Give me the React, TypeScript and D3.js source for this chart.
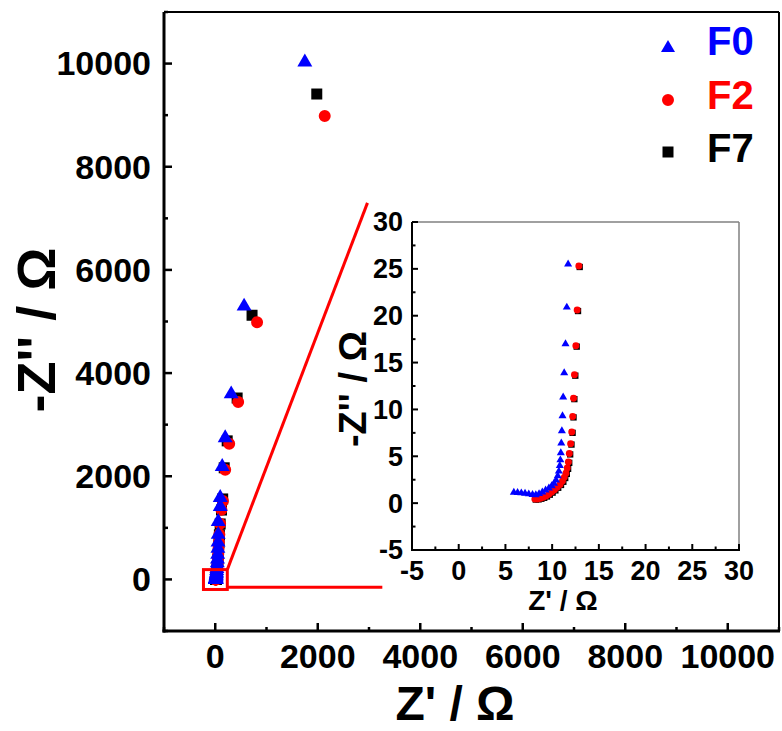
import React from "react";
import * as d3 from "d3";

type Pt = [number, number];

// Z' and -Z'' values in ohm (inset part + main part)
const f0Data: Pt[] = [
  [5.9, 1.15], [6.3, 1.12], [6.7, 1.08], [7.1, 1.03], [7.5, 0.97], [7.9, 0.9], [8.25, 0.88],
  [8.6, 1.0], [8.95, 1.18], [9.3, 1.38], [9.65, 1.6], [9.95, 1.84], [10.2, 2.1], [10.42, 2.45],
  [10.6, 2.9], [10.72, 3.4], [10.82, 4.0], [10.88, 4.6], [10.93, 5.35], [10.98, 6.4], [11.04, 7.7],
  [11.11, 9.3], [11.18, 11.3], [11.29, 13.9], [11.43, 17.0], [11.57, 20.9], [11.71, 25.5],
  [13, 31], [14, 38], [15, 47], [16, 58], [18, 72], [20, 89], [22, 110], [25, 136], [28, 168],
  [32, 208], [36, 257], [40, 318], [44, 393], [48, 486], [52, 601], [55, 720], [58, 870],
  [58, 1121], [97, 1411], [97, 1585], [136, 2184], [194, 2744], [311, 3594], [563, 5295], [1748, 10029],
];

const f2Data: Pt[] = [
  [8.15, 0.43], [8.45, 0.45], [8.75, 0.52], [9.05, 0.62], [9.35, 0.76], [9.65, 0.95], [9.95, 1.18],
  [10.25, 1.42], [10.55, 1.7], [10.85, 2.0], [11.1, 2.35], [11.3, 2.75], [11.48, 3.2], [11.62, 3.75],
  [11.74, 4.4], [11.84, 5.3], [11.98, 6.35], [12.1, 7.6], [12.2, 9.25], [12.29, 11.2], [12.39, 13.7],
  [12.54, 16.8], [12.68, 20.6], [12.86, 25.3],
  [14, 31], [15, 38], [16, 47], [18, 58], [20, 72], [22, 89], [25, 110], [28, 136], [32, 168],
  [36, 208], [41, 257], [46, 318], [52, 393], [58, 486], [64, 601], [72, 720], [80, 870],
  [95, 1080], [120, 1350], [150, 1520], [194, 2126], [272, 2628], [447, 3440], [816, 4985], [2136, 8985],
];

const f7Data: Pt[] = [
  [8.25, 0.38], [8.55, 0.4], [8.85, 0.47], [9.15, 0.57], [9.45, 0.71], [9.75, 0.9], [10.05, 1.12],
  [10.35, 1.36], [10.65, 1.64], [10.95, 1.94], [11.2, 2.28], [11.4, 2.68], [11.57, 3.12], [11.71, 3.66],
  [11.83, 4.3], [11.93, 5.2], [12.07, 6.25], [12.19, 7.5], [12.29, 9.15], [12.38, 11.1], [12.48, 13.6],
  [12.63, 16.7], [12.77, 20.5], [12.95, 25.2],
  [14, 31], [15, 37], [17, 46], [19, 57], [21, 71], [23, 88], [26, 108], [29, 134], [33, 166],
  [37, 206], [42, 254], [47, 315], [53, 390], [59, 482], [65, 598], [73, 716], [81, 866],
  [96, 1075], [122, 1345], [145, 1560], [175, 2164], [233, 2686], [427, 3517], [718, 5121], [1981, 9410],
];

const seriesNames = ["F0", "F2", "F7"];
const seriesColors = ["#0000ff", "#ff0000", "#000000"];

const mainTicks = [0, 2000, 4000, 6000, 8000, 10000];
const mainMinorTicks = [-1000, 1000, 3000, 5000, 7000, 9000, 11000];
const insetTicks = [-5, 0, 5, 10, 15, 20, 25, 30];
const insetMinorTicks = [-2.5, 2.5, 7.5, 12.5, 17.5, 22.5, 27.5];

// zoom box around the origin (main data units)
const boxX = [-230, 235];
const boxY = [-195, 190];

const font = "'Liberation Sans', Arial, sans-serif";

const main = { left: 164, right: 779, top: 12, bottom: 631 };
const inset = { left: 412, right: 739, top: 222, bottom: 550 };

export default function App() {
  const x = d3.scaleLinear().domain([-1000, 11000]).range([main.left, main.right]);
  const y = d3.scaleLinear().domain([-1000, 11000]).range([main.bottom, main.top]);
  const xi = d3.scaleLinear().domain([-5, 30]).range([inset.left, inset.right]);
  const yi = d3.scaleLinear().domain([-5, 30]).range([inset.bottom, inset.top]);

  const datasets = [f0Data, f2Data, f7Data];
  const types = [d3.symbolTriangle, d3.symbolCircle, d3.symbolSquare];
  const mainSizes = [97, 113, 121];
  const insetSizes = [28, 38, 40];
  const legendSizes = [85, 113, 121];

  const sym = (i: number, size: number) => d3.symbol().type(types[i]).size(size)() as string;

  // draw order: F7 below, F0 on top
  const order = [2, 1, 0];

  return (
    <svg width={782} height={731} style={{ position: "absolute", left: 0, top: 0, background: "#fff" }}
      fontFamily={font} fontWeight="bold">
      <rect width={782} height={731} fill="#fff" />

      {/* main frame */}
      <line x1={main.left} x2={main.right} y1={main.top} y2={main.top} stroke="#000" strokeWidth={2} />
      <line x1={main.right} x2={main.right} y1={main.top} y2={main.bottom} stroke="#000" strokeWidth={2} />

      {mainTicks.map((t) => (
        <g key={"mx" + t}>
          <line x1={x(t)} x2={x(t)} y1={main.bottom} y2={main.bottom - 8} stroke="#000" strokeWidth={2.5} />
          <text x={x(t)} y={668} textAnchor="middle" fontSize={34}>{t}</text>
          <line x1={main.left} x2={main.left + 8} y1={y(t)} y2={y(t)} stroke="#000" strokeWidth={2.5} />
          <text x={151} y={y(t)} dy="0.35em" textAnchor="end" fontSize={34}>{t}</text>
        </g>
      ))}
      {mainMinorTicks.map((t) => (
        <g key={"mm" + t}>
          <line x1={x(t)} x2={x(t)} y1={main.bottom} y2={main.bottom - 4} stroke="#000" strokeWidth={2.5} />
          <line x1={main.left} x2={main.left + 4} y1={y(t)} y2={y(t)} stroke="#000" strokeWidth={2.5} />
        </g>
      ))}
      <line x1={main.left} x2={main.left} y1={main.top} y2={main.bottom + 1.5} stroke="#000" strokeWidth={3} />
      <line x1={main.left - 1.5} x2={main.right + 1} y1={main.bottom} y2={main.bottom} stroke="#000" strokeWidth={3} />

      <text x={455} y={720} textAnchor="middle" fontSize={48}>Z' / Ω</text>
      <text transform={`translate(55,330) rotate(-90)`} textAnchor="middle" fontSize={54}>-Z'' / Ω</text>

      {/* main points */}
      {order.map((i) => (
        <g key={"ms" + i} fill={seriesColors[i]}>
          {datasets[i].map((d, k) => (
            <path key={k} d={sym(i, mainSizes[i])} transform={`translate(${x(d[0])},${y(d[1])})`} />
          ))}
        </g>
      ))}

      {/* zoom box and leader lines */}
      <rect x={x(boxX[0])} y={y(boxY[1])} width={x(boxX[1]) - x(boxX[0])} height={y(boxY[0]) - y(boxY[1])}
        fill="none" stroke="#ff0000" strokeWidth={3} />
      <line x1={x(boxX[1])} y1={y(boxY[1])} x2={x(2970)} y2={y(7300)} stroke="#ff0000" strokeWidth={3} />
      <line x1={x(boxX[1])} y1={y(-150)} x2={x(3260)} y2={y(-150)} stroke="#ff0000" strokeWidth={3} />

      {/* legend */}
      {seriesNames.map((n, i) => (
        <g key={n}>
          <path d={sym(i, legendSizes[i])} transform={`translate(668,${[48, 100, 152][i]})`} fill={seriesColors[i]} />
          <text x={707} y={[55, 109, 162][i]} fontSize={40} fill={seriesColors[i]}>{n}</text>
        </g>
      ))}

      {/* inset */}
      <rect x={inset.left} y={inset.top} width={inset.right - inset.left} height={inset.bottom - inset.top} fill="#fff" />
      <line x1={inset.left} x2={inset.right} y1={inset.top} y2={inset.top} stroke="#808080" strokeWidth={1.5} />
      <line x1={inset.right} x2={inset.right} y1={inset.top} y2={inset.bottom} stroke="#808080" strokeWidth={1.5} />
      {insetTicks.map((t) => (
        <g key={"ix" + t}>
          <line x1={xi(t)} x2={xi(t)} y1={inset.bottom} y2={inset.bottom - 6} stroke="#000" strokeWidth={2} />
          <text x={xi(t)} y={580} textAnchor="middle" fontSize={27}>{t}</text>
          <line x1={inset.left} x2={inset.left + 6} y1={yi(t)} y2={yi(t)} stroke="#000" strokeWidth={2} />
          <text x={403} y={yi(t)} dy="0.35em" textAnchor="end" fontSize={27}>{t}</text>
        </g>
      ))}
      {insetMinorTicks.map((t) => (
        <g key={"im" + t}>
          <line x1={xi(t)} x2={xi(t)} y1={inset.bottom} y2={inset.bottom - 3.5} stroke="#000" strokeWidth={2} />
          <line x1={inset.left} x2={inset.left + 3.5} y1={yi(t)} y2={yi(t)} stroke="#000" strokeWidth={2} />
        </g>
      ))}
      <line x1={inset.left} x2={inset.left} y1={inset.top} y2={inset.bottom + 1} stroke="#000" strokeWidth={2} />
      <line x1={inset.left - 1} x2={inset.right + 1} y1={inset.bottom} y2={inset.bottom} stroke="#000" strokeWidth={2} />

      <text x={563} y={610} textAnchor="middle" fontSize={28}>Z' / Ω</text>
      <text transform={`translate(366,389) rotate(-90)`} textAnchor="middle" fontSize={38}>-Z'' / Ω</text>

      {order.map((i) => (
        <g key={"is" + i} fill={seriesColors[i]}>
          {datasets[i]
            .filter((d) => d[0] >= -5 && d[0] <= 30 && d[1] >= -5 && d[1] <= 30)
            .map((d, k) => (
              <path key={k} d={sym(i, insetSizes[i])} transform={`translate(${xi(d[0])},${yi(d[1])})`} />
            ))}
        </g>
      ))}
    </svg>
  );
}
